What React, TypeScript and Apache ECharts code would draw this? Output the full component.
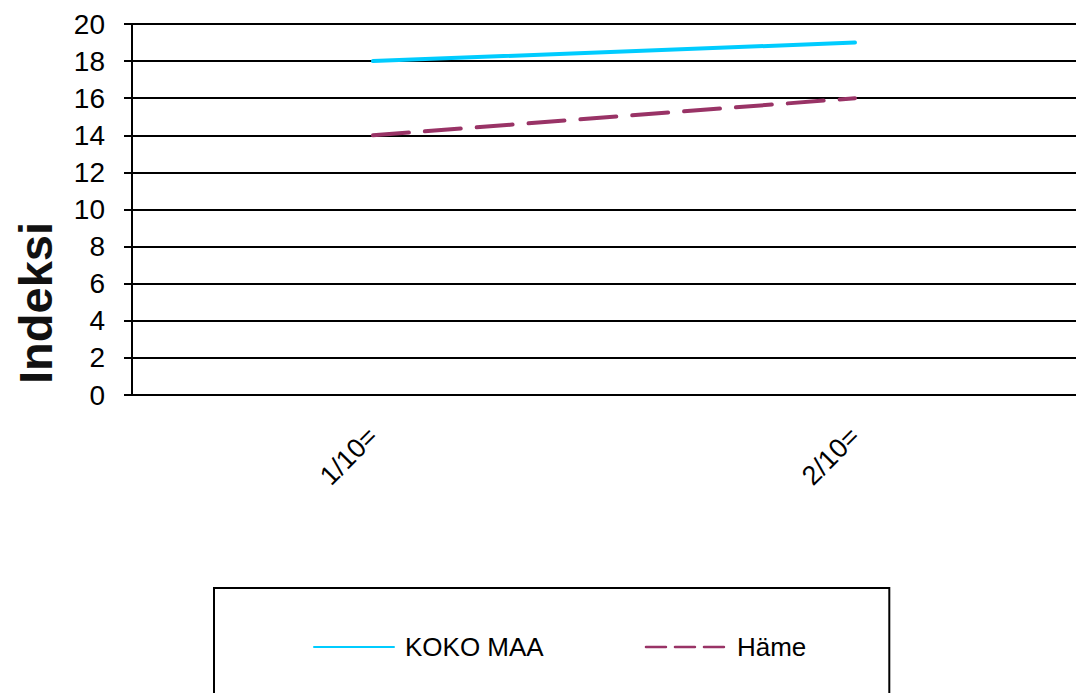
import React, { useEffect, useRef } from "react";
import * as echarts from "echarts";

const categories = ["1/10=", "2/10="];
const kokoMaa = [18, 19];
const hame = [14, 16];
const yTicks = { min: 0, max: 20, interval: 2 };
const seriesNames = ["KOKO MAA", "Häme"];
const axisTitle = "Indeksi";

export default function App() {
  const ref = useRef<HTMLDivElement>(null);
  useEffect(() => {
    document.body.style.margin = "0";
    document.body.style.overflow = "hidden";
    document.documentElement.style.overflow = "hidden";
    const chart = echarts.init(ref.current!, null, { renderer: "svg" });
    const font = "Arial, 'Liberation Sans', sans-serif";
    chart.setOption({
      animation: false,
      backgroundColor: "#ffffff",
      textStyle: { fontFamily: font },
      grid: { left: 132, top: 24, height: 371, width: 964, containLabel: false },
      xAxis: {
        type: "category",
        data: categories,
        boundaryGap: true,
        axisLine: { lineStyle: { color: "#000", width: 2 } },
        axisTick: { show: false },
        axisLabel: { rotate: 45, margin: 37, fontSize: 27, color: "#000", fontFamily: font },
      },
      yAxis: {
        type: "value",
        min: yTicks.min,
        max: yTicks.max,
        interval: yTicks.interval,
        axisLine: { show: true, lineStyle: { color: "#000", width: 2 } },
        axisTick: { show: true, length: 8, lineStyle: { color: "#000", width: 2 } },
        splitLine: { lineStyle: { color: "#000", width: 2 } },
        axisLabel: { margin: 27, fontSize: 28, color: "#000", fontFamily: font },
      },
      legend: {
        left: 214,
        top: 588,
        width: 675,
        padding: [46, 83, 80, 99],
        borderColor: "#000",
        borderWidth: 2,
        itemWidth: 80,
        itemHeight: 26,
        itemGap: 101,
        textStyle: { fontSize: 26, color: "#000", fontFamily: font, padding: [0, 0, 0, 6] },
        data: [
          {
            name: seriesNames[0],
            itemStyle: { opacity: 0 },
            lineStyle: { width: 2, type: "solid", color: "#00CCFF" },
          },
          {
            name: seriesNames[1],
            itemStyle: { opacity: 0 },
            lineStyle: { width: 2.5, type: [20, 9], color: "#993366" },
          },
        ],
      },
      graphic: [
        {
          type: "text",
          x: 35,
          y: 303,
          rotation: Math.PI / 2,
          style: {
            text: axisTitle,
            fontSize: 47,
            fontWeight: "bold",
            fontFamily: font,
            fill: "#111",
            align: "center",
            verticalAlign: "middle",
          },
        },
      ],
      series: [
        {
          name: seriesNames[0],
          type: "line",
          data: kokoMaa,
          symbol: "none",
          lineStyle: { color: "#00CCFF", width: 4, cap: "round" },
          itemStyle: { color: "#00CCFF" },
        },
        {
          name: seriesNames[1],
          type: "line",
          data: hame,
          symbol: "none",
          lineStyle: { color: "#993366", width: 4, type: [36, 16], cap: "round" },
          itemStyle: { color: "#993366" },
        },
      ],
    });
    return () => chart.dispose();
  }, []);
  return <div ref={ref} style={{ width: 1110, height: 693 }} />;
}
